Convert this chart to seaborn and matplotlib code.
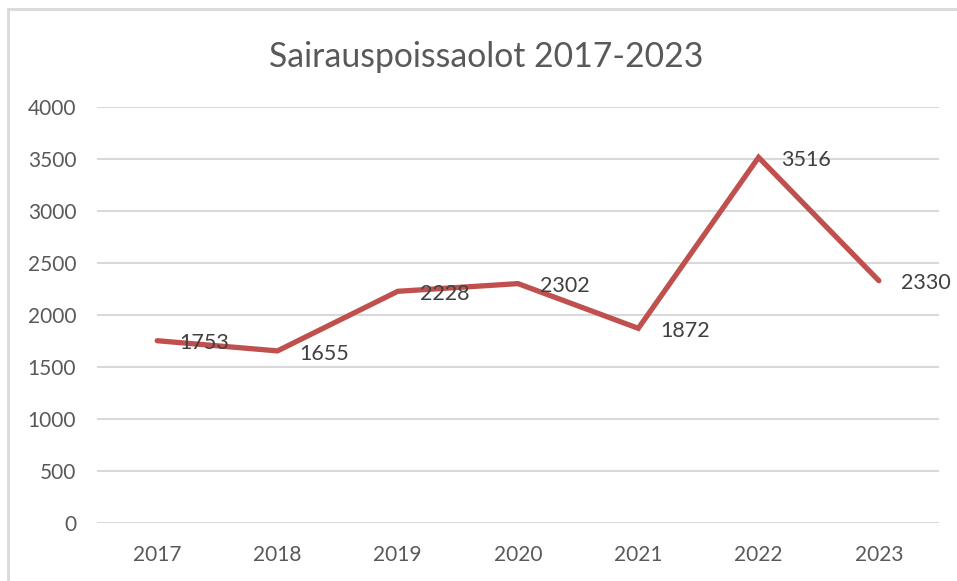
import matplotlib
matplotlib.use("Agg")
import matplotlib.pyplot as plt
import seaborn as sns
import pandas as pd
from matplotlib.lines import Line2D

years = ["2017", "2018", "2019", "2020", "2021", "2022", "2023"]
values = [1753, 1655, 2228, 2302, 1872, 3516, 2330]
yticks = [0, 500, 1000, 1500, 2000, 2500, 3000, 3500, 4000]
title = "Sairauspoissaolot 2017-2023"

sns.set_theme(style="white")
plt.rcParams["font.family"] = ["Lato", "DejaVu Sans"]

df = pd.DataFrame({"year": years, "value": values})

fig = plt.figure(figsize=(9.57, 5.81), dpi=100)
ax = fig.add_axes([0.1014, 0.0998, 0.8798, 0.7160])

sns.lineplot(data=df, x="year", y="value", ax=ax, color="#C0504D",
             linewidth=3.8, solid_capstyle="round", solid_joinstyle="miter",
             zorder=3)

ax.set_xlim(-0.5, len(years) - 0.5)
ax.set_ylim(0, 4000)
ax.set_yticks(yticks)
ax.set_yticklabels([str(t) for t in yticks])
ax.yaxis.grid(True, color="#D9D9D9", linewidth=1.5)
ax.set_axisbelow(True)
for s in ax.spines.values():
    s.set_visible(False)
ax.tick_params(axis="both", length=0, labelsize=15, labelcolor="#595959")
ax.tick_params(axis="y", pad=15)
ax.tick_params(axis="x", pad=16)
ax.set_xlabel("")
ax.set_ylabel("")

for i, v in enumerate(values):
    ax.annotate(str(v), (i, v), xytext=(16, -2), textcoords="offset points",
                ha="left", va="center", fontsize=15.5, color="#404040", zorder=4)

fig.text(0.508, 0.902, title, ha="center", va="center", fontsize=24.3, color="#595959")

fig.add_artist(Line2D([8/957, 8/957], [0, 1 - 9/581], transform=fig.transFigure,
                      color="#D9D9D9", linewidth=2))
fig.add_artist(Line2D([8/957, 1], [1 - 9/581, 1 - 9/581], transform=fig.transFigure,
                      color="#D9D9D9", linewidth=2))

fig.savefig("out.png", dpi=100)
